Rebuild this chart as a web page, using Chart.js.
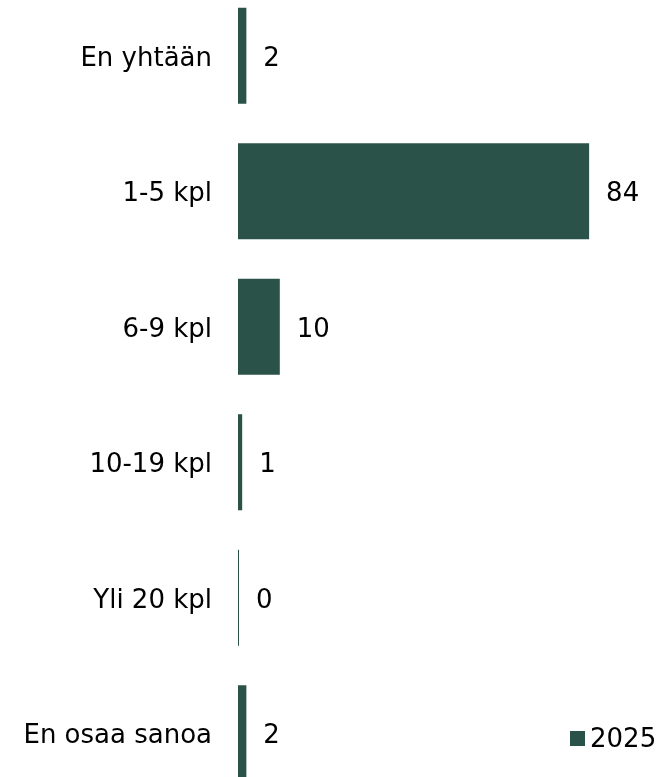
<!DOCTYPE html>
<html>
<head>
<meta charset="utf-8">
<script src="https://cdn.jsdelivr.net/npm/chart.js@4.4.1/dist/chart.umd.min.js"></script>
<style>
    html, body { margin: 0; padding: 0; background: #fff; overflow: hidden; }
    #wrap { position: absolute; left: 0; top: -12px; width: 659px; height: 813px; }
    #legend {
        position: absolute; left: 570px; top: 723px;
        font: 26px "DejaVu Sans", Verdana, sans-serif; color: #000;
        display: flex; align-items: center; white-space: nowrap;
    }
    #legend .box { width: 15px; height: 15px; background: #2b5248; margin-right: 5px; }
</style>
</head>
<body>
<div id="wrap"><canvas id="chart"></canvas></div>
<div id="legend"><span class="box"></span><span>2025</span></div>
<script>
const categories = ["En yhtään", "1-5 kpl", "6-9 kpl", "10-19 kpl", "Yli 20 kpl", "En osaa sanoa"];
const seriesName = "2025";
const values2025 = [2, 84, 10, 1, 0, 2];

const barColor = "#2b5248";
const fontFamily = '"DejaVu Sans", Verdana, sans-serif';

// draws the number just past the end of each bar
const valueLabels = {
    id: "valueLabels",
    afterDatasetsDraw(chart) {
        const ctx = chart.ctx;
        const meta = chart.getDatasetMeta(0);
        ctx.save();
        ctx.font = "26px " + fontFamily;
        ctx.fillStyle = "#000";
        ctx.textAlign = "left";
        ctx.textBaseline = "middle";
        meta.data.forEach((bar, i) => {
            const end = Math.max(bar.x, bar.base);
            ctx.fillText(String(values2025[i]), end + 17, bar.y + 3);
        });
        ctx.restore();
    }
};

new Chart(document.getElementById("chart"), {
    type: "bar",
    data: {
        labels: categories,
        datasets: [{
            label: seriesName,
            data: values2025,
            backgroundColor: barColor,
            borderWidth: 0,
            barPercentage: 0.709,
            categoryPercentage: 1,
            minBarLength: 1,
        }]
    },
    options: {
        indexAxis: "y",
        responsive: true,
        maintainAspectRatio: false,
        animation: false,
        layout: { padding: { left: 0, right: 3, top: 0, bottom: 0 } },
        plugins: {
            legend: { display: false },
            tooltip: { enabled: false },
        },
        scales: {
            x: {
                display: false,
                min: 0,
                max: 100,
            },
            y: {
                grid: { display: false, drawTicks: false },
                border: { display: false },
                ticks: {
                    padding: 26,
                    labelOffset: 3,
                    color: "#000",
                    font: { family: fontFamily, size: 26 },
                },
                afterFit(scale) {
                    // fixed axis width, no extra room above/below the bands
                    scale.width = 238;
                    scale.paddingTop = 0;
                    scale.paddingBottom = 0;
                },
            }
        }
    },
    plugins: [valueLabels]
});
</script>
</body>
</html>
